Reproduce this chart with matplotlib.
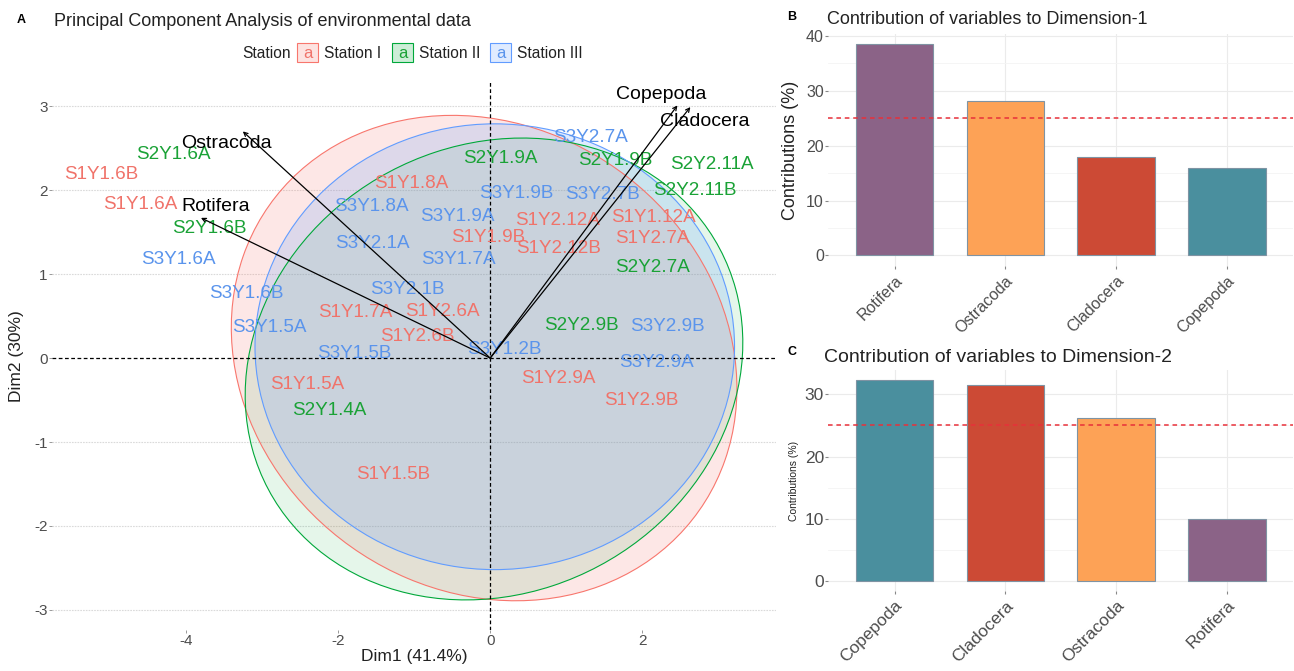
import matplotlib
matplotlib.use("Agg")
import matplotlib.pyplot as plt
from matplotlib.patches import Ellipse, Rectangle

plt.rcParams['font.family'] = ['Liberation Sans', 'DejaVu Sans']
plt.rcParams['axes.unicode_minus'] = False

# individuals (PCA scores)
obs_names = ['S1Y1.6B', 'S2Y1.6A', 'S1Y1.6A', 'S2Y1.6B', 'S3Y1.6A', 'S3Y1.6B', 'S3Y1.5A',
             'S1Y1.8A', 'S3Y1.8A', 'S3Y2.1A', 'S3Y2.1B', 'S1Y1.7A', 'S1Y2.6A', 'S1Y2.6B',
             'S3Y1.5B', 'S1Y1.5A', 'S2Y1.4A', 'S1Y1.5B', 'S2Y1.9A', 'S3Y1.9B', 'S3Y1.9A',
             'S1Y1.9B', 'S3Y1.7A', 'S1Y2.12A', 'S1Y2.12B', 'S3Y2.7A', 'S2Y1.9B', 'S3Y2.7B',
             'S2Y2.11A', 'S2Y2.11B', 'S1Y1.12A', 'S1Y2.7A', 'S2Y2.7A', 'S2Y2.9B', 'S3Y2.9B',
             'S3Y1.2B', 'S3Y2.9A', 'S1Y2.9A', 'S1Y2.9B']
obs_dim1 = [-5.11, -4.16, -4.60, -3.69, -4.09, -3.21, -2.90,
            -1.03, -1.56, -1.55, -1.09, -1.77, -0.63, -0.96,
            -1.79, -2.40, -2.12, -1.28, 0.14, 0.34, -0.43,
            -0.03, -0.42, 0.88, 0.90, 1.32, 1.65, 1.48,
            2.91, 2.69, 2.15, 2.13, 2.13, 1.20, 2.33,
            0.18, 2.18, 0.90, 1.98]
obs_dim2 = [2.19, 2.43, 1.83, 1.54, 1.18, 0.77, 0.37,
            2.08, 1.80, 1.36, 0.82, 0.54, 0.55, 0.26,
            0.06, -0.32, -0.63, -1.39, 2.38, 1.96, 1.69,
            1.44, 1.17, 1.64, 1.30, 2.63, 2.35, 1.95,
            2.31, 1.99, 1.67, 1.43, 1.08, 0.39, 0.38,
            0.10, -0.05, -0.24, -0.50]

# variables (arrow tips and where their labels sit)
var_names = ['Rotifera', 'Ostracoda', 'Copepoda', 'Cladocera']
var_dim1 = [-3.80, -3.25, 2.46, 2.63]
var_dim2 = [1.67, 2.70, 3.01, 2.99]
var_lab1 = [-3.61, -3.47, 2.25, 2.82]
var_lab2 = [1.80, 2.56, 3.14, 2.82]

# station ellipses
stations = ['Station I', 'Station II', 'Station III']
station_codes = ['S1', 'S2', 'S3']
ell_cx = [-0.08, 0.05, 0.06]
ell_cy = [0.00, -0.13, 0.135]
ell_w = [6.78, 6.63, 6.30]
ell_h = [5.62, 5.39, 5.31]
ell_angle = [-21, 16.6, 0]

# contributions
dim1_vars = ['Rotifera', 'Ostracoda', 'Cladocera', 'Copepoda']
dim1_contrib = [38.4, 28.1, 17.9, 16.0]
dim2_vars = ['Copepoda', 'Cladocera', 'Ostracoda', 'Rotifera']
dim2_contrib = [32.3, 31.5, 26.2, 9.95]
expected = 25

st_line = {'S1': '#F8766D', 'S2': '#00A83A', 'S3': '#619CFF'}
st_text = {'S1': '#F0736A', 'S2': '#1AA236', 'S3': '#5A94EC'}
st_alpha = {'S1': 0.17, 'S2': 0.10, 'S3': 0.20}
var_colors = {'Rotifera': '#8B6387', 'Ostracoda': '#FDA256',
              'Cladocera': '#CC4A35', 'Copepoda': '#4A8F9E'}

fig = plt.figure(figsize=(12.94, 6.71), dpi=100)

# ---- panel A: biplot
ax = fig.add_axes([0.040, 0.061, 0.560, 0.817])
ax.set_xlim(-5.76, 3.76)
ax.set_ylim(-3.24, 3.29)
for s in ax.spines.values():
    s.set_visible(False)
ax.set_yticks([-3, -2, -1, 0, 1, 2, 3])
ax.set_xticks([-4, -2, 0, 2])
for yv in [-3, -2, -1, 1, 2, 3]:
    ax.axhline(yv, color='#DADADA', lw=0.8, ls=(0, (1.5, 1)), zorder=0)
ax.tick_params(length=2, width=0.6, color='#888888', labelcolor='#4D4D4D', labelsize=11, pad=1)

for i, code in enumerate(station_codes):
    ax.add_patch(Ellipse((ell_cx[i], ell_cy[i]), ell_w[i], ell_h[i], angle=ell_angle[i],
                         facecolor=st_line[code], alpha=st_alpha[code], edgecolor='none', zorder=1))
for i, code in enumerate(station_codes):
    ax.add_patch(Ellipse((ell_cx[i], ell_cy[i]), ell_w[i], ell_h[i], angle=ell_angle[i],
                         facecolor='none', edgecolor=st_line[code], lw=0.8, zorder=2))

ax.axhline(0, color='black', lw=0.9, ls=(0, (3, 2)), zorder=2)
ax.axvline(0, color='black', lw=0.9, ls=(0, (3, 2)), zorder=2)

for name, x, y in zip(obs_names, obs_dim1, obs_dim2):
    ax.text(x, y, name, color=st_text[name[:2]], fontsize=13.6, ha='center', va='center', zorder=3)

for i, name in enumerate(var_names):
    ax.annotate('', xy=(var_dim1[i], var_dim2[i]), xytext=(0, 0),
                arrowprops=dict(arrowstyle='->', color='black', lw=0.9, shrinkA=0, shrinkB=0,
                                mutation_scale=7), zorder=4)
    ax.text(var_lab1[i], var_lab2[i], name, color='black', fontsize=14,
            ha='center', va='center', zorder=5)

ax.set_xlabel('Dim1 (41.4%)', fontsize=12.5, color='#222222')
ax.set_ylabel('Dim2 (30%)', fontsize=12.5, color='#222222')
ax.xaxis.set_label_coords(0.5, -0.035)
ax.yaxis.set_label_coords(-0.038, 0.5)

fig.text(17 / 1294, 1 - 20 / 671, 'A', fontsize=9, fontweight='bold', va='center')
fig.text(54 / 1294, 1 - 21 / 671, 'Principal Component Analysis of environmental data',
         fontsize=13, va='center', color='#222222')

# legend row
ly = 1 - 53 / 671
fig.text(242 / 1294, ly, 'Station', fontsize=11.2, va='center', color='#222222')
leg_x = [297, 392, 490]
for i, code in enumerate(station_codes):
    bx = leg_x[i] / 1294
    fig.patches.append(Rectangle((bx, 1 - 62 / 671), 21 / 1294, 19 / 671, transform=fig.transFigure,
                                 facecolor=st_line[code], alpha=0.2, edgecolor='none'))
    fig.patches.append(Rectangle((bx, 1 - 62 / 671), 21 / 1294, 19 / 671, transform=fig.transFigure,
                                 facecolor='none', edgecolor=st_line[code], lw=0.8))
    fig.text(bx + 10.5 / 1294, ly, 'a', color=st_text[code], fontsize=12, ha='center', va='center')
    fig.text(bx + 27 / 1294, ly, stations[i], fontsize=11.2, va='center', color='#222222')


# ---- panels B and C: contribution bars
def contrib_panel(rect, names, values, ymax, ticks, ylab_size, tick_size, xlab_size):
    bx = fig.add_axes(rect)
    pos = list(range(len(names)))
    bx.bar(pos, values, width=0.7, color=[var_colors[n] for n in names],
           edgecolor='#7F93A3', lw=0.8, zorder=2)
    bx.axhline(expected, color='#E8303A', lw=1.1, ls=(0, (3, 2.5)), zorder=3)
    bx.set_xlim(-0.6, 3.6)
    bx.set_ylim(-0.05 * ymax, 1.05 * ymax)
    bx.set_xticks(pos)
    bx.set_xticklabels(names, rotation=45, ha='right', rotation_mode='anchor')
    bx.set_yticks(ticks)
    bx.set_yticks([t + 5 for t in ticks if t + 5 < 1.05 * ymax], minor=True)
    bx.grid(True, which='major', color='#EBEBEB', lw=0.8, zorder=0)
    bx.grid(True, which='minor', axis='y', color='#F4F4F4', lw=0.6, zorder=0)
    bx.set_axisbelow(True)
    for s in bx.spines.values():
        s.set_visible(False)
    bx.tick_params(axis='y', labelsize=tick_size, length=2, color='#888888', labelcolor='#4D4D4D', pad=1)
    bx.tick_params(axis='x', labelsize=xlab_size, length=2, color='#888888', labelcolor='#4D4D4D', pad=3)
    bx.tick_params(which='minor', length=0)
    bx.set_ylabel('Contributions (%)', fontsize=ylab_size, color='#222222')
    bx.yaxis.set_label_coords(-0.062, 0.5)
    return bx


contrib_panel([0.640, 0.6036, 0.3594, 0.3458], dim1_vars, dim1_contrib, 38.4,
              [0, 10, 20, 30, 40], 13, 11.5, 11.5)
contrib_panel([0.640, 0.1192, 0.3594, 0.3294], dim2_vars, dim2_contrib, 32.3,
              [0, 10, 20, 30], 7.5, 12.5, 12.5)

fig.text(787 / 1294, 1 - 17 / 671, 'B', fontsize=9, fontweight='bold', va='center')
fig.text(827 / 1294, 1 - 19 / 671, 'Contribution of variables to Dimension-1',
         fontsize=13, va='center', color='#222222')
fig.text(787 / 1294, 1 - 352 / 671, 'C', fontsize=9, fontweight='bold', va='center')
fig.text(824 / 1294, 1 - 357 / 671, 'Contribution of variables to Dimension-2',
         fontsize=14, va='center', color='#222222')

fig.savefig('out.png', dpi=100)
